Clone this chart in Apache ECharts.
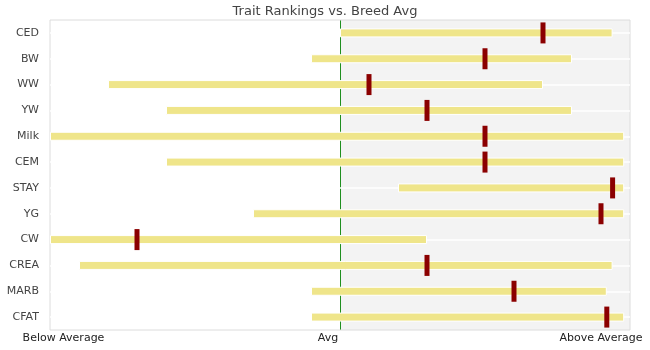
<!DOCTYPE html>
<html>
<head>
<meta charset="utf-8">
<style>
  html, body { margin: 0; padding: 0; background: #fff; }
  #chart { width: 650px; height: 350px; }
</style>
<script src="https://cdn.jsdelivr.net/npm/echarts@6/dist/echarts.min.js"></script>
</head>
<body>
<div id="chart"></div>
<script>
// Trait names, top to bottom
const traits = ['CED', 'BW', 'WW', 'YW', 'Milk', 'CEM', 'STAY', 'YG', 'CW', 'CREA', 'MARB', 'CFAT'];
// Breed percentile range for each trait (low end, high end)
const rangeLow = [50, 45, 10, 20, 0, 20, 60, 35, 0, 5, 45, 45];
const rangeHigh = [97, 90, 85, 90, 99, 99, 99, 99, 65, 97, 96, 99];
// The animal's own ranking on each trait
const animalRank = [85, 75, 55, 65, 75, 75, 97, 95, 15, 65, 80, 96];
// Bottom axis: positions and their labels
const tickValues = [0, 50, 100];
const tickLabels = ['Below Average', 'Avg', 'Above Average'];
const breedAvg = 50;

const FONT = 'DejaVu Sans';
const chart = echarts.init(document.getElementById('chart'), null, { renderer: 'canvas' });

const rangeSpan = rangeHigh.map((h, i) => h - rangeLow[i]);
const labelKeys = ['lo', 'mid', 'hi'];

chart.setOption({
  animation: false,
  title: {
    text: 'Trait Rankings vs. Breed Avg',
    left: 'center',
    top: 0,
    textStyle: { fontFamily: FONT, fontSize: 13, fontWeight: 'normal', color: '#444' }
  },
  grid: {
    left: 50, right: 20, top: 20, bottom: 20,
    show: true, borderColor: '#dcdcdc', borderWidth: 1, backgroundColor: 'transparent'
  },
  xAxis: {
    type: 'value',
    min: 0, max: 100,
    axisLine: { show: false },
    axisTick: { show: false },
    splitLine: { show: false },
    axisLabel: {
      customValues: tickValues,
      margin: 3,
      fontFamily: FONT, fontSize: 11, color: '#222',
      formatter: (v) => {
        const i = tickValues.indexOf(v);
        return i < 0 ? '' : '{' + labelKeys[i] + '|' + tickLabels[i] + '}';
      },
      rich: {
        lo: { fontFamily: FONT, fontSize: 11, color: '#222', padding: [0, 0, 0, 27] },
        mid: { fontFamily: FONT, fontSize: 11, color: '#222', padding: [0, 24, 0, 0] },
        hi: { fontFamily: FONT, fontSize: 11, color: '#222', padding: [0, 58, 0, 0] }
      }
    }
  },
  yAxis: {
    type: 'category',
    data: traits,
    inverse: true,
    axisLine: { show: false },
    axisTick: { show: false },
    axisLabel: { fontFamily: FONT, fontSize: 11, color: '#444', margin: 11 },
    splitLine: { show: true, alignWithLabel: true, lineStyle: { color: '#ffffff', width: 1.5 } }
  },
  series: [
    {
      // above-average half shading and the breed average line
      type: 'line',
      data: [],
      markArea: {
        z: -2,
        silent: true,
        itemStyle: { color: '#f3f3f3' },
        data: [[{ xAxis: breedAvg }, { xAxis: 100 }]]
      },
      markLine: {
        z: -1,
        silent: true,
        symbol: ['none', 'none'],
        label: { show: false },
        lineStyle: { color: '#1f8f1f', width: 1, type: 'solid' },
        data: [{ xAxis: breedAvg }]
      }
    },
    {
      type: 'bar',
      stack: 'range',
      barWidth: 9,
      silent: true,
      itemStyle: { color: 'transparent', borderWidth: 0 },
      data: rangeLow
    },
    {
      type: 'bar',
      stack: 'range',
      barWidth: 9,
      itemStyle: { color: '#efe58a', borderColor: '#ffffff', borderWidth: 1 },
      data: rangeSpan
    },
    {
      type: 'scatter',
      symbol: 'rect',
      symbolSize: [5, 21],
      z: 5,
      itemStyle: { color: '#8b0000', opacity: 1 },
      data: animalRank.map((v, i) => [v, i])
    }
  ]
});
</script>
</body>
</html>
